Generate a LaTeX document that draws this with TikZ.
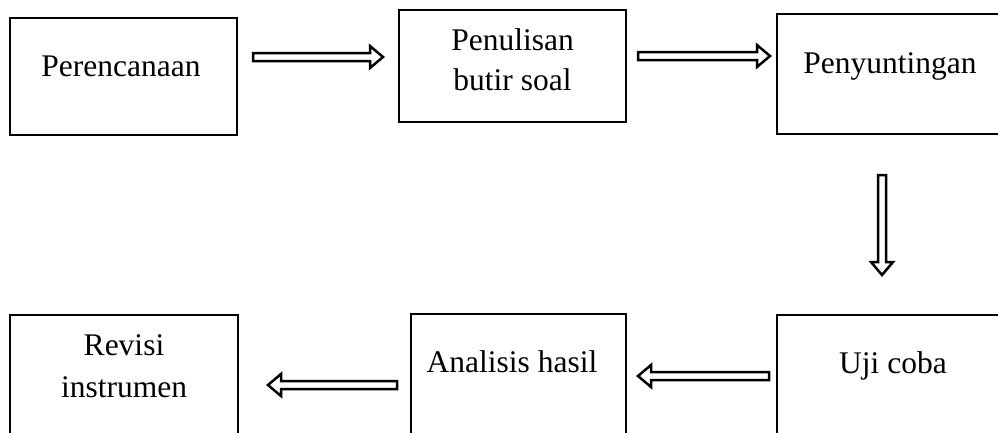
\documentclass[tikz,border=0pt]{standalone}
\usepackage{fontspec}
\setmainfont{Liberation Serif}
\usetikzlibrary{calc}
\tikzset{
  box/.style={draw=black, line width=2.2pt, rectangle, inner sep=0pt},
  txt/.style={inner sep=0pt, anchor=base, font=\fontsize{31.5}{40}\selectfont},
  arrowline/.style={draw=black, line width=2.5pt, line join=miter, fill=white},
  pics/barrow/.style={code={
    \draw[arrowline] (0,-4) -- ({#1-13},-4) -- ({#1-13},-11) -- (#1,0)
      -- ({#1-13},11) -- ({#1-13},4) -- (0,4) -- cycle;
  }}
}
\begin{document}
\begin{tikzpicture}[x=1pt,y=-1pt]
\useasboundingbox (0,0) rectangle (998,432);
% boxes
\node[box, minimum width=227pt, minimum height=117pt] (b1) at (123.5,76.5) {};
\node[box, minimum width=227pt, minimum height=112pt] (b2) at (512.5,66) {};
\node[box, minimum width=227pt, minimum height=120pt] (b3) at (890.5,74) {};
\node[box, minimum width=228pt, minimum height=125pt] (b4) at (124,377.5) {};
\node[box, minimum width=215pt, minimum height=126pt] (b5) at (518.5,377) {};
\node[box, minimum width=227pt, minimum height=125pt] (b6) at (890.5,377.5) {};
% texts
\node[txt] (t1) at (121,76) {Perencanaan};
\node[txt] (t2a) at (512.5,50) {Penulisan};
\node[txt] (t2b) at (512.5,90) {butir soal};
\node[txt] (t3) at (890,73) {Penyuntingan};
\node[txt] (t4a) at (124,355) {Revisi};
\node[txt] (t4b) at (124,397) {instrumen};
\node[txt] (t5) at (512,372) {Analisis hasil};
\node[txt] (t6) at (893,373) {Uji coba};
% arrow end points
\coordinate (a1s) at (253,57);
\coordinate (a2s) at (638,56);
\coordinate (a3s) at (882,175);
\coordinate (a4s) at (769,376);
\coordinate (a5s) at (397,385);
% arrows
\pic at (a1s) {barrow=130};
\pic at (a2s) {barrow=132};
\pic[rotate=-90] at (a3s) {barrow=100};
\pic[rotate=180] at (a4s) {barrow=131};
\pic[rotate=180] at (a5s) {barrow=129};
\end{tikzpicture}
\end{document}
